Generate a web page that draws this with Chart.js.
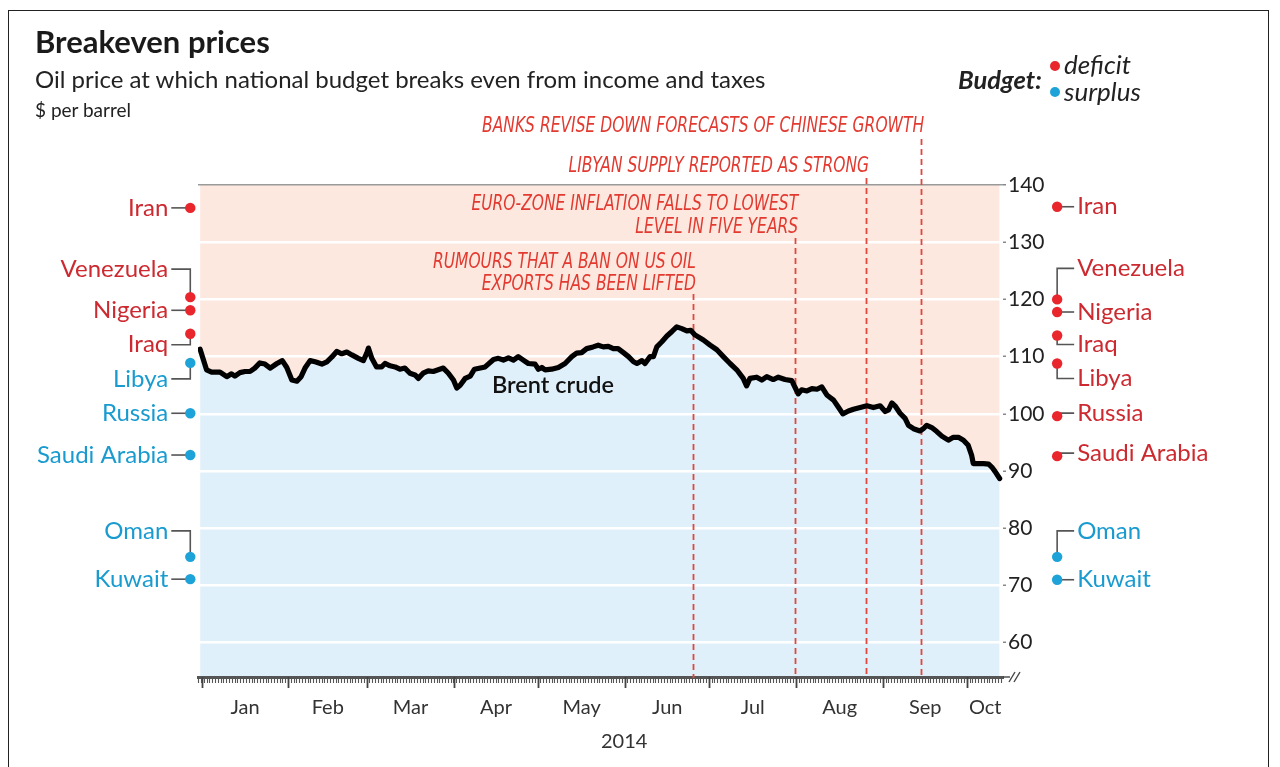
<!DOCTYPE html>
<html><head><meta charset="utf-8">
<script src="https://cdn.jsdelivr.net/npm/chart.js@4.4.1/dist/chart.umd.min.js"></script>
<style>
html,body{margin:0;padding:0;background:#fff;width:1280px;height:767px;overflow:hidden;}
#wrap{position:relative;width:1280px;height:767px;}
#frame{position:absolute;left:8px;top:10px;width:1261px;height:800px;border:1.5px solid #222;box-sizing:border-box;}
#c{position:absolute;left:0;top:0;}
.t{position:absolute;font-family:Lato,'Open Sans','Noto Sans',sans-serif;color:#1a1a1a;white-space:nowrap;line-height:1;}
.dot{position:absolute;width:10px;height:10px;border-radius:50%;}
</style></head><body>
<div id="wrap">
<div id="frame"></div>
<canvas id="c" width="1280" height="767"></canvas>
<div class="t" style="left:35px;top:26px;font-size:31px;font-weight:700;">Breakeven prices</div>
<div class="t" style="left:35px;top:67px;font-size:24px;color:#222;">Oil price at which national budget breaks even from income and taxes</div>
<div class="t" style="left:35px;top:100px;font-size:19px;color:#222;">$ per barrel</div>
<div class="t" style="left:958px;top:67px;font-size:25.5px;font-weight:700;font-style:italic;color:#222;">Budget:</div>
<div class="dot" style="left:1050px;top:61px;background:#e8262c;"></div>
<div class="dot" style="left:1050px;top:87px;background:#1ea3d8;"></div>
<div class="t" style="left:1064px;top:51px;font-size:26px;font-style:italic;color:#222;">deficit</div>
<div class="t" style="left:1064px;top:78px;font-size:26px;font-style:italic;color:#222;">surplus</div>
</div>
<script>
// ---------- data ----------
const brentDays = [-0.5,1.8,3.6,6.6,9.0,10.7,11.9,13.7,15.5,17.3,
19.0,20.8,22.6,24.5,26.9,28.8,30.4,32.2,34.0,35.5,
36.9,38.7,40.5,42.9,44.7,46.4,48.2,50.0,51.8,53.6,
55.9,57.7,58.9,59.5,60.7,62.4,64.2,65.4,67.2,69.0,
70.7,72.5,74.3,76.1,77.3,79.0,80.8,82.6,84.4,86.2,
88.0,89.8,91.0,92.2,94.0,95.8,97.3,101.1,104.1,105.8,
107.6,109.4,111.2,112.9,114.7,116.5,118.9,120.1,121.3,122.5,
124.8,127.2,129.6,132.0,133.7,135.5,137.3,139.6,141.4,143.2,
145.0,146.8,148.5,150.4,152.2,154.0,155.2,157.0,158.1,159.9,
161.1,162.3,164.1,165.9,167.7,169.4,171.2,173.0,174.4,175.9,
178.9,181.3,183.7,186.0,188.4,190.8,193.1,194.3,195.5,197.9,
199.7,201.5,203.8,205.6,208.0,210.4,211.9,212.7,213.9,215.8,
217.6,219.4,221.1,222.9,225.3,227.1,228.6,230.6,232.4,234.8,
237.2,239.5,241.9,243.7,244.9,246.1,247.2,249.0,250.8,252.0,
253.8,256.1,257.3,258.5,260.3,262.1,263.9,266.2,268.0,269.8,
271.6,273.3,274.5,275.1,276.9,278.8,280.6,281.7,282.9,284.5];
const brentPrices = [111.3,107.7,107.3,107.3,106.5,107.0,106.6,107.2,107.4,107.4,
108.0,108.9,108.7,108.0,108.8,109.3,108.1,105.9,105.7,106.5,
108.0,109.3,109.1,108.7,109.1,109.9,110.9,110.5,110.8,110.3,
109.7,109.3,110.6,111.5,109.7,108.2,108.2,108.8,108.4,108.2,
107.8,108.0,107.1,106.8,106.2,107.1,107.5,107.4,107.7,108.0,
107.1,105.9,104.5,105.0,106.2,106.6,107.8,108.2,109.5,109.7,
109.4,109.8,109.4,110.0,109.4,108.8,108.7,107.8,108.1,107.7,
107.8,108.1,108.8,110.0,110.6,110.7,111.4,111.7,112.0,111.7,
111.8,111.4,111.4,110.7,110.0,109.1,108.8,109.3,108.8,110.0,
110.0,111.7,112.6,113.6,114.4,115.2,114.9,114.5,114.6,113.8,
112.9,112.0,111.2,110.0,108.8,107.7,106.2,104.9,106.2,106.4,
105.9,106.5,106.0,106.4,106.0,105.8,104.3,103.5,104.2,104.0,
104.4,104.3,104.7,103.3,102.4,101.1,100.0,100.5,100.8,101.1,
101.4,101.1,101.4,100.4,100.7,101.9,101.4,100.1,99.2,98.0,
97.4,97.0,97.4,98.0,97.6,96.9,96.1,95.4,95.9,95.9,
95.4,94.5,92.8,91.3,91.3,91.3,91.2,90.7,89.9,88.7];

const countries = ['Iran','Venezuela','Nigeria','Iraq','Libya','Russia','Saudi Arabia','Oman','Kuwait'];
const breakevenStart = [136.0,120.4,118.1,114.0,108.9,100.1,92.8,75.0,71.1];
const breakevenEnd   = [136.2,120.0,117.8,113.7,108.8,99.6,92.6,75.0,71.0];

const monthLabels = ['Jan','Feb','Mar','Apr','May','Jun','Jul','Aug','Sep','Oct'];
const monthStartDays = [0,31,59,90,120,151,181,212,243,273];
const yearLabel = '2014';
const yTicks = [60,70,80,90,100,110,120,130,140];

const eventDays = [175.2, 211.6, 236.9, 256.5];
const eventTexts = [
  ['RUMOURS THAT A BAN ON US OIL','EXPORTS HAS BEEN LIFTED'],
  ['EURO-ZONE INFLATION FALLS TO LOWEST','LEVEL IN FIVE YEARS'],
  ['LIBYAN SUPPLY REPORTED AS STRONG'],
  ['BANKS REVISE DOWN FORECASTS OF CHINESE GROWTH']
];
const seriesLabel = 'Brent crude';

// ---------- layout / style ----------
const X_MIN = -1.25, X_MAX = 285.7, Y_MIN = 54, Y_MAX = 140;
const FONT = "Lato, 'Open Sans', 'Noto Sans', sans-serif";
const ANN_FONT = "italic 20px 'Liberation Sans Narrow', 'DejaVu Sans Condensed', 'Liberation Sans', sans-serif";
const ANN_LONGEST_WIDTH = 442;
const RED = '#e8262c', BLUE = '#1ea3d8', RED_TXT = '#cc2a30', BLUE_TXT = '#1a9bd0';
const PINK_BG = '#fde8df', BLUE_BG = '#e0f0fb';
const DOT_LEFT_DAY = -4.0, DOT_RIGHT_DAY = 305.0;
const LEFT_DY  = [0,-28,0,11,16,0,0,-26,0];
const RIGHT_DY = [0,-31,0,9,15,-3,-3,-26,0];
const EVENT_LINE_TOP = [294, 238, 178, 139];
const EVENT_TEXT_Y = [[263,285],[205,228],[167],[127]];
const BRENT_LABEL_AT = {x:125.3, y:104.9};

// ---------- derived ----------
const brentPoints = brentDays.map((d,i)=>({x:d, y:brentPrices[i]}));
const startPrice = brentPrices[0], endPrice = brentPrices[brentPrices.length-1];
const dotPoints = [], dotColors = [];
countries.forEach((c,i)=>{
  dotPoints.push({x:DOT_LEFT_DAY, y:breakevenStart[i]});
  dotColors.push(breakevenStart[i] > startPrice ? RED : BLUE);
});
countries.forEach((c,i)=>{
  dotPoints.push({x:DOT_RIGHT_DAY, y:breakevenEnd[i]});
  dotColors.push(breakevenEnd[i] > endPrice ? RED : BLUE);
});

const monthMid = monthStartDays.map((s,i)=>{
  const e = i < monthStartDays.length-1 ? monthStartDays[i+1] : X_MAX;
  return (s+e)/2;
});
const labelAt = {};
monthMid.forEach((m,i)=>{ labelAt[m] = monthLabels[i]; });
const xTickValues = [];
for (let d = Math.ceil(X_MIN); d <= Math.floor(X_MAX); d++) xTickValues.push(d);
monthMid.forEach(m=>{ if (!Number.isInteger(m)) xTickValues.push(m); });
xTickValues.sort((a,b)=>a-b);

const overlay = {
  id:'overlay',
  beforeDatasetsDraw(chart){
    const {ctx, scales:{x,y}} = chart;
    ctx.save();
    // event lines
    ctx.strokeStyle = '#e2473d'; ctx.lineWidth = 1.8; ctx.setLineDash([6,4]);
    eventDays.forEach((d,i)=>{
      const px = Math.round(x.getPixelForValue(d)) + 0.5;
      ctx.beginPath(); ctx.moveTo(px, EVENT_LINE_TOP[i]); ctx.lineTo(px, y.bottom + 1); ctx.stroke();
    });
    ctx.setLineDash([]);
    // connectors
    ctx.strokeStyle = '#555'; ctx.lineWidth = 1.6;
    countries.forEach((c,i)=>{
      const xl = x.getPixelForValue(DOT_LEFT_DAY), yl = y.getPixelForValue(breakevenStart[i]);
      const ly = yl + LEFT_DY[i];
      ctx.beginPath(); ctx.moveTo(xl - 19, ly); ctx.lineTo(xl, ly); ctx.lineTo(xl, yl); ctx.stroke();
      const xr = x.getPixelForValue(DOT_RIGHT_DAY), yr = y.getPixelForValue(breakevenEnd[i]);
      const ry = yr + RIGHT_DY[i];
      ctx.beginPath(); ctx.moveTo(xr, yr); ctx.lineTo(xr, ry); ctx.lineTo(xr + 17, ry); ctx.stroke();
    });
    ctx.restore();
  },
  afterDatasetsDraw(chart){
    // breakeven dots sit outside the chart area: draw the library's point elements with the full canvas as area
    const meta = chart.getDatasetMeta(2);
    const full = {left:0, top:0, right:chart.width, bottom:chart.height};
    meta.data.forEach(p => p.draw(chart.ctx, full));
  },
  afterDraw(chart){
    const {ctx, scales:{x,y}} = chart;
    ctx.save();
    // long month ticks
    ctx.strokeStyle = '#444'; ctx.lineWidth = 1.8;
    monthStartDays.forEach(d=>{
      const px = Math.round(x.getPixelForValue(d)) + 0.5;
      ctx.beginPath(); ctx.moveTo(px, y.bottom); ctx.lineTo(px, y.bottom + 11); ctx.stroke();
    });
    // axis break
    ctx.strokeStyle = '#444'; ctx.lineWidth = 1.4;
    const bx = x.right + 12, by = y.bottom;
    [-3,2].forEach(dx=>{
      ctx.beginPath(); ctx.moveTo(bx + dx - 3, by + 5); ctx.lineTo(bx + dx + 3, by - 5); ctx.stroke();
    });
    ctx.beginPath(); ctx.moveTo(x.right, by); ctx.lineTo(bx - 5, by); ctx.stroke();
    // year label
    ctx.fillStyle = '#333'; ctx.font = '20px ' + FONT; ctx.textAlign = 'center'; ctx.textBaseline = 'middle';
    ctx.fillText(yearLabel, x.getPixelForValue(monthMid[5]) - 43, 742);
    // event texts (condensed italic)
    ctx.font = ANN_FONT; ctx.fillStyle = '#e23a30'; ctx.textAlign = 'right';
    let longest = 0;
    eventTexts.forEach(ls => ls.forEach(t => { longest = Math.max(longest, ctx.measureText(t).width); }));
    const sx = ANN_LONGEST_WIDTH / longest;
    eventDays.forEach((d,i)=>{
      const px = x.getPixelForValue(d) + 3;
      eventTexts[i].forEach((t,j)=>{
        ctx.save(); ctx.translate(px, EVENT_TEXT_Y[i][j]); ctx.scale(sx, 1.05); ctx.fillText(t, 0, 0); ctx.restore();
      });
    });
    // series label
    ctx.font = '600 23.5px ' + FONT; ctx.fillStyle = '#111'; ctx.textAlign = 'center';
    ctx.fillText(seriesLabel, x.getPixelForValue(BRENT_LABEL_AT.x), y.getPixelForValue(BRENT_LABEL_AT.y));
    // country labels
    ctx.font = '24px ' + FONT;
    countries.forEach((c,i)=>{
      const xl = x.getPixelForValue(DOT_LEFT_DAY), yl = y.getPixelForValue(breakevenStart[i]) + LEFT_DY[i];
      ctx.textAlign = 'right'; ctx.fillStyle = breakevenStart[i] > startPrice ? RED_TXT : BLUE_TXT;
      ctx.fillText(c, xl - 22, yl);
      const xr = x.getPixelForValue(DOT_RIGHT_DAY), yr = y.getPixelForValue(breakevenEnd[i]) + RIGHT_DY[i];
      ctx.textAlign = 'left'; ctx.fillStyle = breakevenEnd[i] > endPrice ? RED_TXT : BLUE_TXT;
      ctx.fillText(c, xr + 20, yr);
    });
    ctx.restore();
  }
};

new Chart(document.getElementById('c'), {
  type:'line',
  data:{ datasets:[
    { label:'deficit area', data:brentPoints, borderWidth:0, pointRadius:0, fill:'end', backgroundColor:PINK_BG, borderColor:'rgba(0,0,0,0)' },
    { label:seriesLabel, data:brentPoints, borderWidth:5.2, borderColor:'#000', pointRadius:0, fill:'start', backgroundColor:BLUE_BG, borderJoinStyle:'round', borderCapStyle:'round', tension:0 },
    { type:'scatter', label:'breakeven', data:dotPoints, pointRadius:5.2, pointBackgroundColor:dotColors, pointBorderWidth:0, clip:false, showLine:false, fill:false }
  ]},
  options:{
    responsive:false, animation:false, events:[],
    layout:{ padding:{ left:198, top:185, right:0, bottom:0 } },
    plugins:{ legend:{display:false}, tooltip:{enabled:false}, filler:{drawTime:'beforeDraw'} },
    scales:{
      x:{ type:'linear', position:'bottom', min:X_MIN, max:X_MAX,
        afterBuildTicks: s => { s.ticks = xTickValues.map(v=>({value:v})); },
        afterFit: s => { s.height = 90; },
        grid:{ drawOnChartArea:false, drawTicks:true, tickLength:6, tickWidth:1.1,
          tickColor: c => (c.tick && labelAt[c.tick.value] && !Number.isInteger(c.tick.value)) ? 'rgba(0,0,0,0)' : '#555' },
        border:{ display:true, color:'#555', width:3 },
        ticks:{ autoSkip:false, maxRotation:0, minRotation:0, padding:13, color:'#333',
          font:{ family:FONT, size:20 }, callback: v => labelAt[v] || '' }
      },
      y:{ type:'linear', position:'right', min:Y_MIN, max:Y_MAX,
        afterBuildTicks: s => { s.ticks = yTicks.map(v=>({value:v})); },
        afterFit: s => { s.width = 277; },
        grid:{ color: c => (c.tick && c.tick.value === Y_MAX) ? '#9a9a9a' : '#ffffff',
          lineWidth: c => (c.tick && c.tick.value === Y_MAX) ? 1.5 : 2.5,
          drawTicks:true, tickLength:3, tickColor:'#888', tickWidth:1.5 },
        border:{ display:false },
        ticks:{ padding:2, color:'#222', font:{ family:FONT, size:21 } }
      }
    }
  },
  plugins:[overlay]
});
</script>
</body></html>
